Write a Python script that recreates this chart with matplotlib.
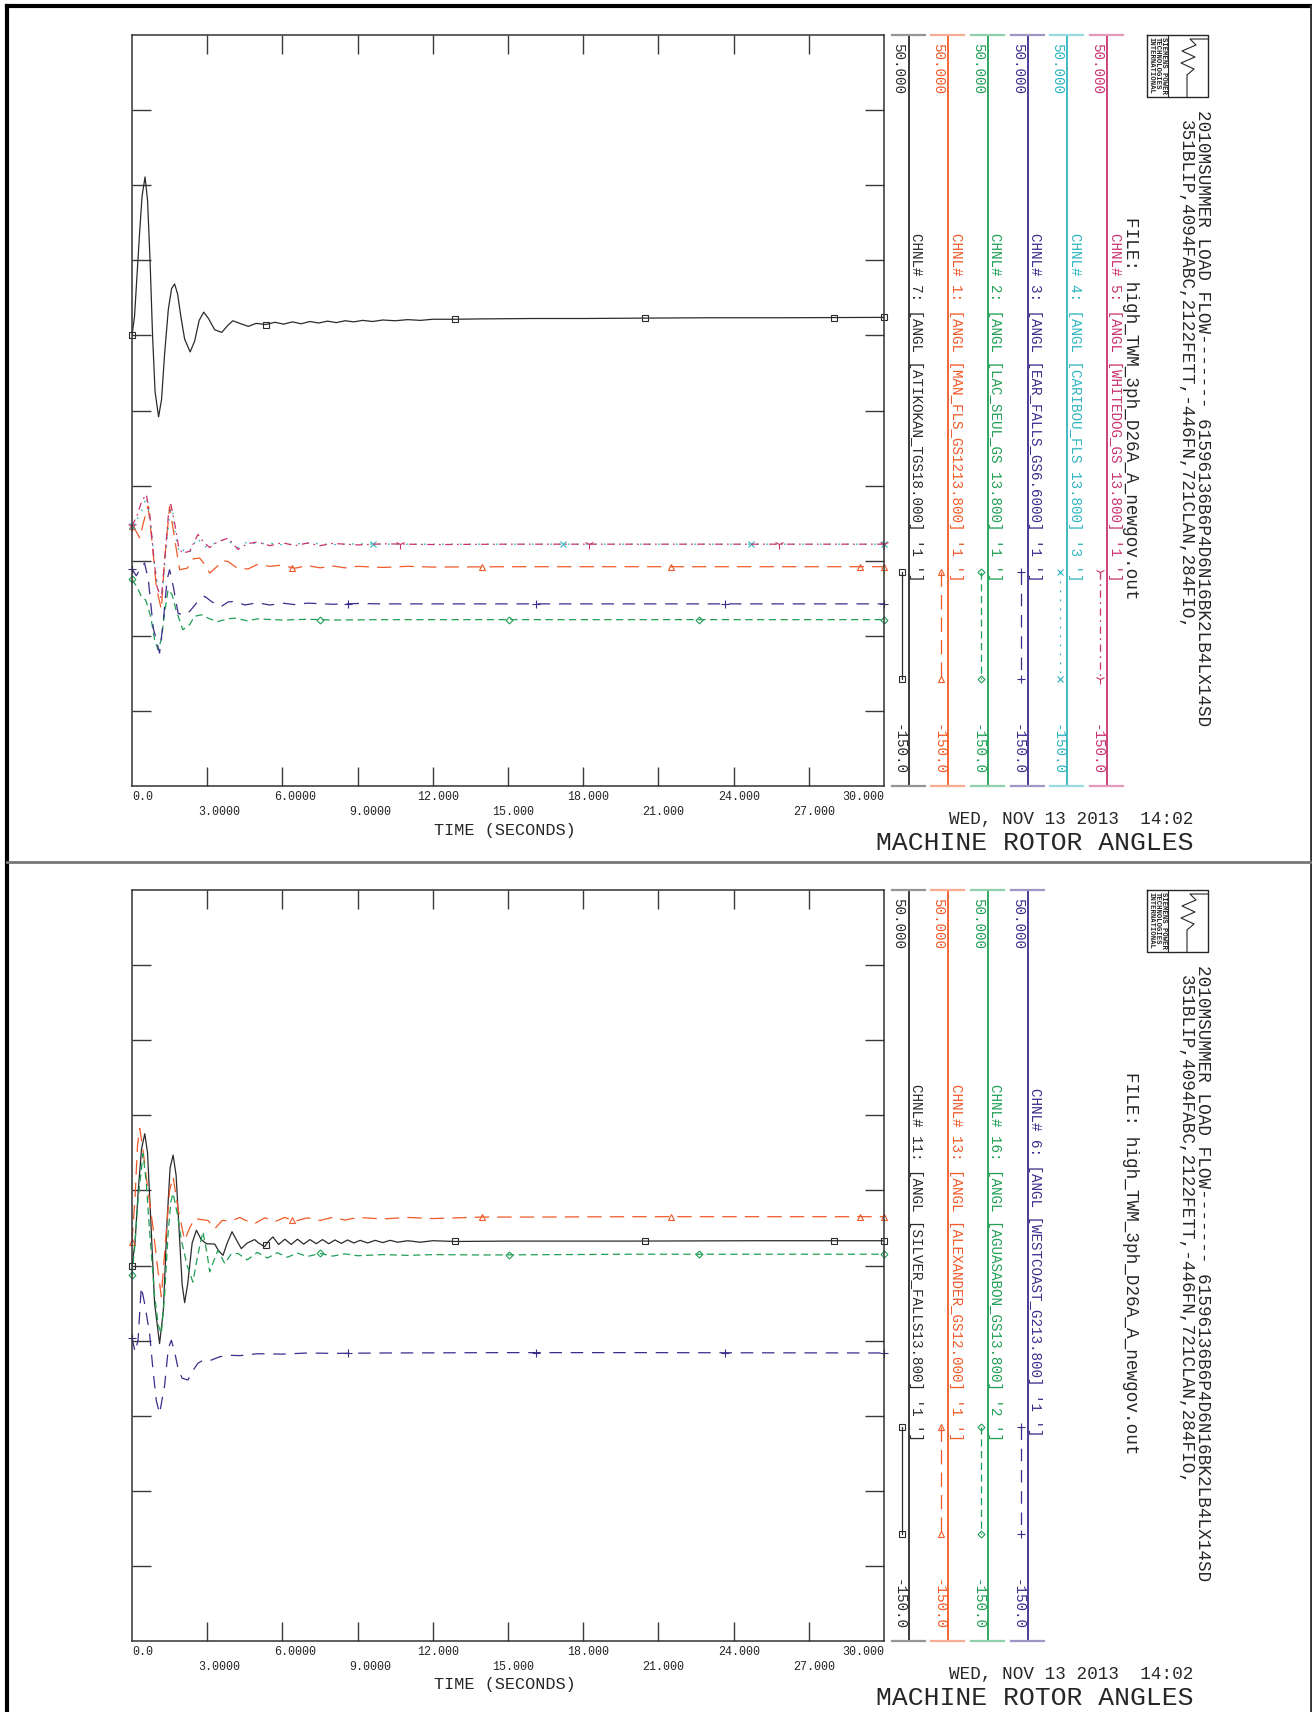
import numpy as np
import matplotlib.pyplot as plt
import matplotlib.colors as mcolors

plt.rcParams['font.family'] = ['Liberation Mono', 'DejaVu Sans Mono']

# ---------------- data (time in seconds, rotor angle in degrees) ----------------
TIME_TICKS = [0, 3, 6, 9, 12, 15, 18, 21, 24, 27, 30]
TIME_LABELS = ['0.0', '3.0000', '6.0000', '9.0000', '12.000', '15.000',
               '18.000', '21.000', '24.000', '27.000', '30.000']
ANGLE_TICKS = [-130, -110, -90, -70, -50, -30, -10, 10, 30]
Y_MIN, Y_MAX = -150.0, 50.0

# top plot
t7 = [0, 0.1, 0.2, 0.3, 0.4, 0.52, 0.62, 0.72, 0.82, 0.92, 1.06, 1.18, 1.3, 1.45, 1.58, 1.7,
      1.82, 1.95, 2.1, 2.32, 2.5, 2.68, 2.86, 3.05, 3.3, 3.58, 3.8, 4.02, 4.3, 4.64, 4.95,
      5.35, 5.7, 6.05, 6.4, 6.75, 7.1, 7.45, 7.8, 8.15, 8.5, 8.85, 9.2, 9.6, 10.0, 10.5,
      11.0, 11.5, 12.0, 12.87, 14, 16, 18, 20.4, 23, 26, 30]
v7 = [-30, -25, -14, -3, 7, 12.2, 6, -10, -30, -45, -51.7, -47, -35, -23, -17.5, -16.3,
      -19, -25, -31, -34.4, -31.5, -26, -23.8, -25.5, -28.5, -29.2, -27.5, -26.1, -26.8, -27.6, -26.8,
      -27.1, -26.5, -27.0, -26.4, -26.9, -26.3, -26.7, -26.2, -26.6, -26.1, -26.4, -26.0, -26.3, -25.9, -26.1,
      -25.8, -26.0, -25.7, -25.7, -25.6, -25.5, -25.5, -25.4, -25.3, -25.3, -25.2]

t1 = [0, 0.15, 0.31, 0.45, 0.64, 0.8, 0.97, 1.17, 1.3, 1.5, 1.65, 1.9, 2.2, 2.45, 2.7, 2.9,
      3.1, 3.4, 3.6, 3.83, 4.2, 4.63, 5.0, 5.5, 5.96, 6.5, 7, 7.5, 8, 8.5, 9, 10, 11, 12, 15, 20, 30]
v1 = [-80.8, -82, -84, -80, -75.5, -85, -97, -103, -90, -75.5, -82, -92.4, -92, -89.5, -89.3, -91,
      -93.3, -91.5, -90, -90.2, -92, -92.2, -91, -91.5, -91.2, -92, -91.3, -91.9, -91.4, -91.9, -91.5,
      -91.8, -91.5, -91.7, -91.6, -91.6, -91.6]

t2 = [0, 0.2, 0.37, 0.55, 0.75, 0.9, 1.04, 1.17, 1.3, 1.44, 1.6, 1.75, 2.03, 2.3, 2.5, 2.77,
      3.1, 3.43, 3.8, 4.1, 4.6, 5.0, 6, 7, 8, 10, 15, 20, 30]
v2 = [-95, -97, -99.5, -100.5, -105, -111, -113.7, -111, -104, -97.7, -99, -103, -108.4, -107,
      -104.8, -104.4, -105.5, -106.2, -105.5, -105.3, -106, -105.5, -105.8, -105.6, -105.8, -105.7,
      -105.7, -105.7, -105.7]

t3 = [0, 0.17, 0.35, 0.5, 0.65, 0.85, 0.97, 1.1, 1.25, 1.4, 1.5, 1.65, 1.84, 2.05, 2.3, 2.57,
      2.9, 3.2, 3.56, 3.83, 4.1, 4.5, 5.0, 5.5, 6.0, 6.5, 7, 8, 9, 10, 15, 20, 30]
v3 = [-92.2, -94, -92, -90.6, -95, -108, -111, -114.6, -106, -95, -92.4, -97, -104, -104.5, -103.5,
      -101.3, -99.5, -101, -102.2, -101, -100.8, -101.8, -101.2, -101.8, -101.3, -101.7, -101.3,
      -101.6, -101.4, -101.5, -101.5, -101.5, -101.5]

t4 = [0, 0.2, 0.37, 0.57, 0.75, 0.9, 1.05, 1.2, 1.35, 1.5, 1.6, 1.75, 1.9, 2.1, 2.3, 2.6, 2.9,
      3.15, 3.5, 3.9, 4.2, 4.6, 5.0, 5.5, 6, 7, 8, 9, 10, 15, 20, 30]
v4 = [-80.8, -79, -77, -73, -80, -91, -98, -99, -88, -77, -76, -84, -88, -87, -87.8, -84, -86.3,
      -86, -84.5, -85, -86.5, -85, -85.6, -85.3, -85.8, -85.3, -85.7, -85.5, -85.6, -85.6, -85.6, -85.6]

t5 = [0, 0.2, 0.4, 0.57, 0.7, 0.85, 1.0, 1.17, 1.3, 1.45, 1.55, 1.7, 1.85, 2.0, 2.3, 2.63, 2.85,
      3.1, 3.4, 3.83, 4.23, 4.6, 5.0, 5.5, 6.0, 6.5, 7.0, 7.5, 8, 9, 10, 12, 15, 20, 25, 30]
v5 = [-80.8, -78, -74, -72.4, -77, -88, -97, -100, -90, -78, -75, -80, -86, -88, -87.5, -83, -85,
      -86.5, -85, -84, -87, -85.5, -85, -86, -85.2, -86, -85.3, -86, -85.4, -85.8, -85.5, -85.7,
      -85.6, -85.6, -85.6, -85.6]

# bottom plot
t11 = [0, 0.12, 0.25, 0.38, 0.51, 0.62, 0.75, 0.9, 1.1, 1.25, 1.4, 1.52, 1.64, 1.76, 1.9, 2.0,
       2.1, 2.22, 2.4, 2.57, 2.75, 2.97, 3.3, 3.45, 3.63, 3.8, 3.99, 4.15, 4.36, 4.6, 4.89, 5.05,
       5.29, 5.45, 5.62, 5.85, 6.1, 6.35, 6.6, 6.85, 7.1, 7.35, 7.6, 7.85, 8.1, 8.35, 8.6, 8.85,
       9.1, 9.4, 9.7, 10, 10.3, 10.6, 11, 11.5, 12, 12.9, 15, 20, 25, 30]
v11 = [-50, -44, -30, -19, -14.9, -20, -38, -60, -70.8, -62, -38, -24, -20.6, -26, -43, -55,
       -59.9, -55, -44, -40.6, -43, -44.2, -44.3, -46, -47.3, -44, -41, -43, -45.5, -44, -43.1, -44,
       -45, -43.5, -42.4, -44.4, -43.0, -44.4, -43.0, -44.3, -43.1, -44.2, -43.1, -44.2, -43.2, -44.1,
       -43.2, -44.0, -43.3, -44.0, -43.3, -43.9, -43.3, -43.8, -43.4, -43.8, -43.4, -43.6, -43.5,
       -43.5, -43.4, -43.4]

t13 = [0, 0.12, 0.22, 0.31, 0.44, 0.6, 0.84, 1.01, 1.17, 1.32, 1.5, 1.64, 1.84, 2.1, 2.3, 2.5,
       2.8, 3.03, 3.3, 3.6, 3.96, 4.3, 4.5, 4.9, 5.3, 5.7, 6.1, 6.5, 7, 7.5, 8, 8.5, 9, 10, 11, 12,
       14, 16, 20, 25, 30]
v13 = [-43.7, -32, -18, -13.5, -19.3, -28, -40, -50, -58.3, -45, -30, -26.4, -35, -43.3, -40,
       -37.5, -37.8, -38, -40.2, -38, -38.1, -37.2, -37.9, -38.8, -37.3, -38.3, -37.2, -38.2, -37.3,
       -38.0, -37.2, -37.9, -37.2, -37.6, -37.2, -37.5, -37.1, -37.1, -37.0, -37.0, -37.0]

t16 = [0, 0.12, 0.24, 0.44, 0.57, 0.7, 0.9, 1.05, 1.17, 1.3, 1.44, 1.55, 1.64, 1.8, 1.97, 2.2,
       2.43, 2.63, 2.83, 3.0, 3.1, 3.25, 3.43, 3.7, 3.95, 4.23, 4.6, 5.0, 5.4, 5.8, 6.2, 6.6, 7.0,
       7.5, 8, 8.5, 9, 10, 11, 12, 14, 20, 25, 30]
v16 = [-52.6, -44, -32.6, -20.2, -28, -40.6, -58, -66, -68.1, -58, -41.5, -33, -30.8, -36, -43.3,
       -50, -54.4, -47, -41, -47, -51.7, -49, -45.9, -49.5, -47, -46.8, -48.5, -46.5, -48, -46.6,
       -47.8, -46.7, -47.6, -46.8, -47.5, -46.9, -47.4, -47.1, -47.3, -47.1, -47.2, -47.0, -47.0, -47.0]

t6 = [0, 0.12, 0.24, 0.37, 0.5, 0.7, 0.84, 0.97, 1.1, 1.3, 1.45, 1.57, 1.7, 1.84, 2.0, 2.23, 2.43,
      2.63, 2.9, 3.16, 3.5, 3.83, 4.3, 5, 6, 7, 8, 10, 15, 20, 30]
v6 = [-69.2, -73, -70, -55.7, -60, -68, -78, -86, -89.4, -82, -72, -69.9, -73, -77.5, -80, -80.5,
      -78, -76, -75, -75.2, -74.3, -73.9, -74, -73.5, -73.6, -73.3, -73.4, -73.3, -73.2, -73.2, -73.3]

# times of the symbols placed on each channel curve
mk_col0 = [0, 5.35, 12.9, 20.45, 28.0, 30]
mk_col1 = [0, 6.4, 13.95, 21.5, 29.05, 30]
mk_col2 = [0, 7.5, 15.05, 22.6, 30]
mk_col3 = [0, 8.6, 16.1, 23.65, 30]
mk_col4 = [0, 9.6, 17.2, 24.7, 30]
mk_col5 = [0, 10.7, 18.25, 25.8, 30]

top_names = ["CHNL# 7: [ANGL [ATIKOKAN_TGS18.000] '1 ']",
             "CHNL# 1: [ANGL [MAN_FLS_GS1213.800] '1 ']",
             "CHNL# 2: [ANGL [LAC_SEUL_GS 13.800] '1 ']",
             "CHNL# 3: [ANGL [EAR_FALLS_GS6.6000] '1 ']",
             "CHNL# 4: [ANGL [CARIBOU_FLS 13.800] '3 ']",
             "CHNL# 5: [ANGL [WHITEDOG_GS 13.800] '1 ']"]
bottom_names = ["CHNL# 11: [ANGL [SILVER_FALLS13.800] '1 ']",
                "CHNL# 13: [ANGL [ALEXANDER_GS12.000] '1 ']",
                "CHNL# 16: [ANGL [AGUASABON_GS13.800] '2 ']",
                "CHNL# 6: [ANGL [WESTCOAST_G213.800] '1 ']"]

HEADER1 = "2010MSUMMER LOAD FLOW------- 61596136B6P4D6N16BK2LB4LX14SD"
HEADER2 = "351BLIP,4094FABC,2122FETT,-446FN,721CLAN,284FIO,"
FILE_LINE = "FILE: high_TWM_3ph_D26A_A_newgov.out"
DATE_LINE = "WED, NOV 13 2013  14:02"
TITLE = "MACHINE ROTOR ANGLES"
XLABEL = "TIME (SECONDS)"
SCALE_TOP, SCALE_BOT = "50.000", "-150.0"

# column styles: colour, dash pattern (points), symbol
COLORS = ['#2b2b2b', '#ef5a28', '#1f9f55', '#3c2d8c', '#2fb5c0', '#c8336e']
DASHES = [None, (11.5, 6.5), (5.8, 3.6), (10, 7), (1.4, 5.8), (5.8, 3.6, 1.4, 3.6)]
MARKERS = ['s', '^', 'D', '+', 'x', '1']
MSIZES = [5, 5, 3.5, 6, 5, 7]
MARK_T = [mk_col0, mk_col1, mk_col2, mk_col3, mk_col4, mk_col5]

top_series = [(t7, v7), (t1, v1), (t2, v2), (t3, v3), (t4, v4), (t5, v5)]
bottom_series = [(t11, v11), (t13, v13), (t16, v16), (t6, v6)]

# ---------------- figure ----------------
W, H = 1312, 1712
fig = plt.figure(figsize=(W / 100, H / 100), dpi=100)
ov = fig.add_axes([0, 0, 1, 1], zorder=0)
ov.set_xlim(0, W)
ov.set_ylim(H, 0)
ov.axis('off')

INK = '#262626'


def lighten(c, f=0.5):
    r, g, b = mcolors.to_rgb(c)
    return (r + (1 - r) * f, g + (1 - g) * f, b + (1 - b) * f)


def line_style(i):
    return '-' if DASHES[i] is None else (0, DASHES[i])


def draw_panel(dy, series, names):
    top, bot = 35 + dy, 786 + dy
    ax = fig.add_axes([132 / W, 1 - bot / H, 752 / W, 751 / H], zorder=2)
    ax.set_xlim(TIME_TICKS[0], TIME_TICKS[-1])
    ax.set_ylim(Y_MIN, Y_MAX)
    ax.set_xticks(TIME_TICKS[1:-1])
    ax.set_yticks(ANGLE_TICKS)
    ax.tick_params(direction='in', length=13.5, width=1, top=True, right=True,
                   labelbottom=False, labelleft=False, color='#3a3a3a')
    for sp in ax.spines.values():
        sp.set_color('#333333')
        sp.set_linewidth(1.1)

    for i, (t, v) in enumerate(series):
        c = COLORS[i]
        ax.plot(t, v, color=c, lw=0.9, ls=line_style(i))
        mt = MARK_T[i]
        ax.plot(mt, np.interp(mt, t, v), ls='none', marker=MARKERS[i], ms=MSIZES[i],
                mfc='none', mec=c, mew=0.8, clip_on=False)

    # time tick labels in two staggered rows
    for k, (tv, lab) in enumerate(zip(TIME_TICKS, TIME_LABELS)):
        if k == 0:
            ha, dx = 'left', 0
        elif k == len(TIME_TICKS) - 1:
            ha, dx = 'right', 0
        else:
            ha, dx = 'left', -7.2 * len(lab.split('.')[0]) - 1.5
        ax.annotate(lab, xy=(tv, 0), xycoords=('data', 'axes fraction'),
                    xytext=(dx, -11 if k % 2 == 0 else -26), textcoords='offset pixels',
                    ha=ha, va='center', fontsize=8.4, color=INK)
    ov.text(505, 830 + dy, XLABEL, ha='center', va='center', fontsize=12.2, color=INK)

    # channel legend columns
    for i, name in enumerate(names):
        c = COLORS[i]
        lx = 908.5 + 39.7 * i
        ov.plot([lx, lx], [top, bot], color=c, lw=1.3)
        for yy in (top, bot):
            ov.plot([lx - 17, lx + 16], [yy, yy], color=lighten(c), lw=1.6)
        ov.text(lx - 10, top + 8, SCALE_TOP, rotation=-90, ha='center', va='top',
                fontsize=10.3, color=c)
        ov.text(lx - 10, bot - 11, SCALE_BOT, rotation=-90, ha='center', va='bottom',
                fontsize=10.3, color=c)
        ov.text(lx + 7.5, (top + bot) / 2 - 3, name, rotation=-90, ha='center',
                va='center', fontsize=10.3, color=c)
        sx = lx - 7
        ov.plot([sx, sx], [top + 537, top + 644], color=c, lw=0.9, ls=line_style(i))
        ov.plot([sx, sx], [top + 537, top + 644], ls='none', marker=MARKERS[i],
                ms=MSIZES[i], mfc='none', mec=c, mew=0.8)

    # header lines
    ov.text(1202, 110 + dy, HEADER1, rotation=-90, ha='center', va='top',
            fontsize=12.7, color=INK)
    ov.text(1185, 120 + dy, HEADER2, rotation=-90, ha='center', va='top',
            fontsize=12.7, color=INK)
    ov.text(1131, 217 + dy, FILE_LINE, rotation=-90, ha='center', va='top',
            fontsize=12.7, color=INK)

    # logo
    ov.plot([1146.5, 1208, 1208, 1146.5, 1146.5],
            [top, top, top + 62, top + 62, top], color=INK, lw=1.0)
    ov.plot([1168, 1168], [top, top + 62], color=INK, lw=0.8)
    ov.plot([1187, 1187, 1194, 1181, 1195, 1182, 1196, 1190, 1208],
            [top + 62, top + 40, top + 34, top + 28, top + 22, top + 16, top + 10, top + 4, top + 4],
            color=INK, lw=0.8)
    for lx, word in zip([1163, 1157, 1151], ['SIEMENS POWER', 'TECHNOLOGIES', 'INTERNATIONAL']):
        ov.text(lx, top + 2, word, rotation=-90, ha='center', va='top', fontsize=5.2,
                color=INK, fontweight='bold')

    ov.text(1193, 819 + dy, DATE_LINE, ha='right', va='center', fontsize=12.7, color=INK)
    ov.text(1193, 843 + dy, TITLE, ha='right', va='center', fontsize=19, color=INK)


draw_panel(0, top_series, top_names)
draw_panel(855, bottom_series, bottom_names)

# page frame
ov.plot([7, 7], [6, H], color='black', lw=3)
ov.plot([7, 1311], [6, 6], color='black', lw=3)
ov.plot([1311, 1311], [6, H], color='#333333', lw=2)
ov.plot([7, 1311], [862, 862], color='#777777', lw=2)

fig.savefig('out.png', dpi=100)
